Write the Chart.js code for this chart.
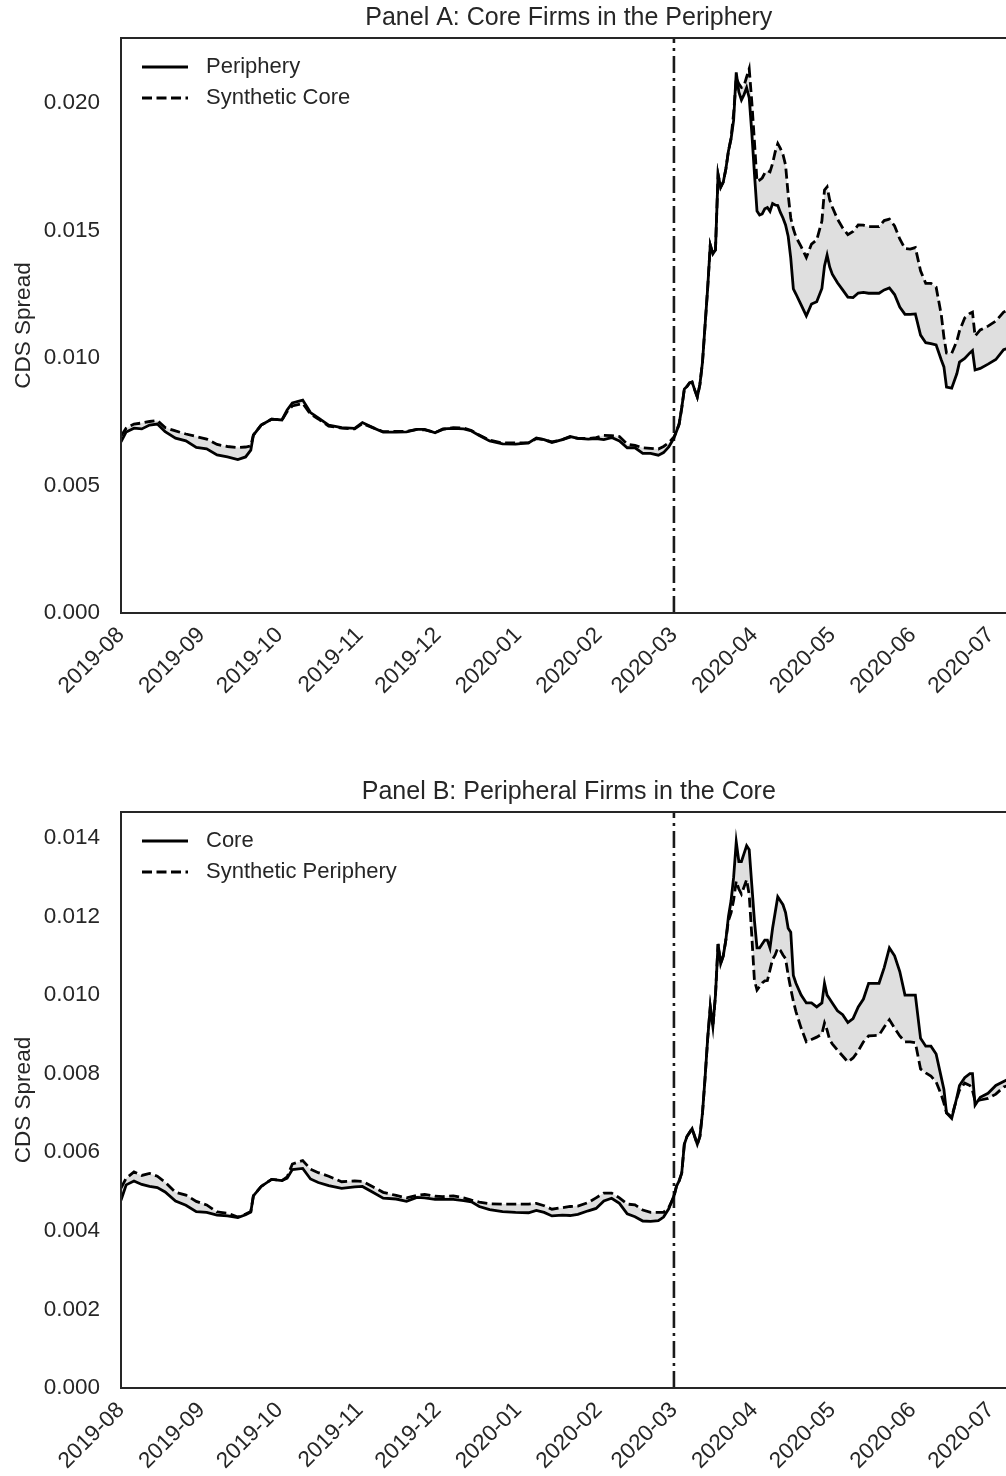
<!DOCTYPE html>
<html>
<head>
<meta charset="utf-8">
<script src="https://cdn.jsdelivr.net/npm/chart.js@4.4.1/dist/chart.umd.min.js"></script>
<style>
  html, body { margin: 0; padding: 0; background: #fff; overflow: hidden; }
  canvas { display: block; }
</style>
</head>
<body>
<canvas id="panelA" width="1138" height="774"></canvas>
<canvas id="panelB" width="1138" height="702"></canvas>
<script>
// observation dates (shared by both panels)
const dates = [
  '2019-08-01','2019-08-03','2019-08-06','2019-08-09','2019-08-12','2019-08-15','2019-08-18','2019-08-22','2019-08-26','2019-08-30',
  '2019-09-03','2019-09-07','2019-09-11','2019-09-15','2019-09-18','2019-09-20','2019-09-21','2019-09-24','2019-09-28',
  '2019-10-02','2019-10-04','2019-10-06','2019-10-10','2019-10-13','2019-10-16','2019-10-20','2019-10-25','2019-10-30',
  '2019-11-02','2019-11-06','2019-11-10','2019-11-15','2019-11-19','2019-11-23','2019-11-26','2019-11-30',
  '2019-12-03','2019-12-07','2019-12-11','2019-12-14','2019-12-17','2019-12-21','2019-12-26','2019-12-31',
  '2020-01-05','2020-01-08','2020-01-11','2020-01-14','2020-01-18','2020-01-21','2020-01-24','2020-01-28','2020-01-31',
  '2020-02-03','2020-02-06','2020-02-09','2020-02-12','2020-02-15','2020-02-18','2020-02-21','2020-02-24','2020-02-26','2020-02-28',
  '2020-03-01','2020-03-02','2020-03-03','2020-03-04','2020-03-05','2020-03-06','2020-03-07','2020-03-08','2020-03-09','2020-03-10',
  '2020-03-11','2020-03-12','2020-03-13','2020-03-14','2020-03-15','2020-03-16','2020-03-17','2020-03-18','2020-03-19','2020-03-20',
  '2020-03-21','2020-03-22','2020-03-23','2020-03-24','2020-03-25','2020-03-26','2020-03-27','2020-03-28','2020-03-29','2020-03-30','2020-03-31',
  '2020-04-01','2020-04-02','2020-04-03','2020-04-04','2020-04-05','2020-04-06','2020-04-07','2020-04-08','2020-04-09','2020-04-10',
  '2020-04-11','2020-04-12','2020-04-13','2020-04-14','2020-04-15','2020-04-16','2020-04-17',
  '2020-04-19','2020-04-21','2020-04-23','2020-04-25','2020-04-27','2020-04-28','2020-04-29','2020-04-30',
  '2020-05-01','2020-05-03','2020-05-05','2020-05-07','2020-05-09','2020-05-11','2020-05-13','2020-05-15','2020-05-17','2020-05-19',
  '2020-05-21','2020-05-23','2020-05-25','2020-05-27','2020-05-29','2020-05-31',
  '2020-06-02','2020-06-04','2020-06-06','2020-06-08','2020-06-10','2020-06-12','2020-06-13','2020-06-14','2020-06-16','2020-06-18',
  '2020-06-19','2020-06-21','2020-06-23','2020-06-24','2020-06-25','2020-06-27','2020-06-30',
  '2020-07-03','2020-07-06','2020-07-09','2020-07-11'
];

// Panel A
const periphery = [
  0.00671,0.00710,0.00725,0.00722,0.00737,0.00741,0.00711,0.00686,0.00675,0.00649,
  0.00644,0.00620,0.00612,0.00602,0.00612,0.00639,0.00698,0.00737,0.00760,
  0.00757,0.00796,0.00824,0.00835,0.00786,0.00765,0.00737,0.00727,0.00724,
  0.00747,0.00727,0.00709,0.00709,0.00710,0.00720,0.00720,0.00707,
  0.00722,0.00724,0.00722,0.00714,0.00696,0.00675,0.00663,0.00662,
  0.00667,0.00686,0.00680,0.00669,0.00680,0.00692,0.00685,0.00682,0.00684,
  0.00680,0.00688,0.00675,0.00648,0.00648,0.00626,0.00626,0.00619,0.00629,0.00651,
  0.00686,0.00713,0.00741,0.00804,0.00878,0.00888,0.00902,0.00906,0.00875,0.00847,
  0.00896,0.00984,0.01129,0.01275,0.01443,0.01408,0.01424,0.01720,0.01670,0.01690,
  0.01741,0.01812,0.01859,0.01933,0.02120,0.02043,0.02012,0.02033,0.02060,0.02020,0.01882,
  0.01725,0.01576,0.01561,0.01565,0.01585,0.01590,0.01575,0.01606,0.01600,0.01598,
  0.01571,0.01549,0.01522,0.01478,0.01392,0.01271,0.01251,
  0.01208,0.01165,0.01212,0.01221,0.01273,0.01361,0.01404,0.01357,
  0.01329,0.01295,0.01267,0.01239,0.01237,0.01255,0.01257,0.01254,0.01254,0.01254,
  0.01267,0.01275,0.01249,0.01200,0.01171,0.01171,
  0.01173,0.01090,0.01060,0.01056,0.01051,0.00992,0.00965,0.00886,0.00882,0.00939,
  0.00984,0.00998,0.01020,0.01029,0.00953,0.00959,0.00976,
  0.00994,0.01033,0.01043,0.01050
];
const syntheticCore = [
  0.00694,0.00725,0.00741,0.00745,0.00751,0.00755,0.00727,0.00714,0.00702,0.00692,
  0.00682,0.00661,0.00653,0.00649,0.00651,0.00655,0.00698,0.00737,0.00760,
  0.00757,0.00790,0.00812,0.00822,0.00780,0.00761,0.00733,0.00725,0.00722,
  0.00743,0.00727,0.00711,0.00712,0.00712,0.00720,0.00718,0.00708,
  0.00720,0.00727,0.00725,0.00716,0.00698,0.00678,0.00667,0.00667,
  0.00667,0.00684,0.00680,0.00671,0.00680,0.00690,0.00685,0.00684,0.00688,
  0.00697,0.00696,0.00692,0.00662,0.00657,0.00648,0.00646,0.00643,0.00653,0.00668,
  0.00690,0.00713,0.00741,0.00804,0.00878,0.00888,0.00902,0.00906,0.00875,0.00847,
  0.00896,0.00984,0.01129,0.01275,0.01443,0.01408,0.01424,0.01720,0.01670,0.01690,
  0.01741,0.01812,0.01862,0.01960,0.02098,0.02075,0.02061,0.02067,0.02102,0.02135,0.02004,
  0.01851,0.01692,0.01698,0.01706,0.01725,0.01735,0.01730,0.01763,0.01808,0.01841,
  0.01822,0.01798,0.01757,0.01641,0.01549,0.01506,0.01475,
  0.01437,0.01394,0.01447,0.01463,0.01537,0.01659,0.01671,0.01620,
  0.01592,0.01545,0.01510,0.01484,0.01496,0.01522,0.01521,0.01515,0.01515,0.01515,
  0.01539,0.01545,0.01518,0.01467,0.01429,0.01427,
  0.01433,0.01342,0.01293,0.01293,0.01278,0.01169,0.01082,0.01020,0.01018,0.01067,
  0.01106,0.01157,0.01175,0.01180,0.01086,0.01110,0.01125,
  0.01145,0.01180,0.01196,0.01205
];

// Panel B
const core = [
  0.00478,0.00517,0.00527,0.00518,0.00513,0.00510,0.00499,0.00476,0.00465,0.00449,
  0.00447,0.00440,0.00438,0.00434,0.00441,0.00448,0.00489,0.00513,0.00531,
  0.00528,0.00534,0.00556,0.00559,0.00532,0.00523,0.00515,0.00508,0.00512,
  0.00513,0.00498,0.00483,0.00481,0.00475,0.00485,0.00484,0.00480,
  0.00480,0.00480,0.00477,0.00474,0.00462,0.00454,0.00449,0.00447,
  0.00446,0.00452,0.00447,0.00438,0.00440,0.00439,0.00442,0.00451,0.00457,
  0.00476,0.00483,0.00470,0.00443,0.00436,0.00425,0.00424,0.00426,0.00435,0.00456,
  0.00489,0.00514,0.00527,0.00547,0.00620,0.00640,0.00650,0.00660,0.00640,0.00620,
  0.00640,0.00700,0.00790,0.00890,0.00970,0.00920,0.01000,0.01130,0.01080,0.01100,
  0.01140,0.01200,0.01240,0.01300,0.01390,0.01340,0.01340,0.01360,0.01380,0.01370,0.01280,
  0.01190,0.01120,0.01120,0.01130,0.01140,0.01140,0.01120,0.01170,0.01210,0.01250,
  0.01240,0.01230,0.01210,0.01170,0.01160,0.01050,0.01030,
  0.01000,0.00980,0.00980,0.00970,0.00980,0.01030,0.01000,0.00990,
  0.00980,0.00960,0.00950,0.00930,0.00940,0.00970,0.00990,0.01030,0.01030,0.01030,
  0.01070,0.01120,0.01100,0.01060,0.01000,0.01000,
  0.01000,0.00890,0.00870,0.00870,0.00850,0.00790,0.00760,0.00700,0.00686,0.00740,
  0.00770,0.00790,0.00800,0.00800,0.00720,0.00740,0.00750,
  0.00770,0.00780,0.00790,0.00790
];
const syntheticPeriphery = [
  0.00509,0.00534,0.00550,0.00541,0.00546,0.00539,0.00524,0.00498,0.00491,0.00475,
  0.00466,0.00448,0.00445,0.00435,0.00443,0.00449,0.00489,0.00513,0.00531,
  0.00528,0.00537,0.00570,0.00579,0.00557,0.00548,0.00539,0.00525,0.00527,
  0.00526,0.00512,0.00498,0.00490,0.00484,0.00490,0.00493,0.00488,
  0.00487,0.00489,0.00484,0.00478,0.00473,0.00469,0.00468,0.00468,
  0.00468,0.00470,0.00464,0.00455,0.00459,0.00462,0.00463,0.00472,0.00484,
  0.00496,0.00496,0.00484,0.00468,0.00466,0.00453,0.00447,0.00447,0.00447,0.00459,
  0.00486,0.00514,0.00527,0.00547,0.00620,0.00640,0.00650,0.00660,0.00640,0.00620,
  0.00640,0.00700,0.00790,0.00890,0.00970,0.00920,0.01000,0.01130,0.01080,0.01100,
  0.01140,0.01190,0.01209,0.01242,0.01290,0.01270,0.01257,0.01275,0.01294,0.01255,0.01150,
  0.01038,0.01013,0.01022,0.01031,0.01036,0.01037,0.01064,0.01091,0.01102,0.01120,
  0.01114,0.01102,0.01093,0.01051,0.01016,0.00984,0.00958,
  0.00916,0.00881,0.00887,0.00893,0.00901,0.00929,0.00911,0.00886,
  0.00876,0.00860,0.00845,0.00830,0.00840,0.00858,0.00881,0.00896,0.00897,0.00898,
  0.00919,0.00937,0.00916,0.00896,0.00881,0.00881,
  0.00879,0.00812,0.00802,0.00794,0.00779,0.00746,0.00725,0.00700,0.00690,0.00738,
  0.00758,0.00776,0.00770,0.00758,0.00730,0.00733,0.00737,
  0.00748,0.00766,0.00772,0.00775
];

const monthTicks = ['2019-08','2019-09','2019-10','2019-11','2019-12','2020-01','2020-02','2020-03','2020-04','2020-05','2020-06','2020-07'];
const startDate = '2019-08-01';
const endDate = '2020-07-11';
const eventDate = '2020-03-01';

const ink = '#262626';
const family = "'Liberation Sans', Arial, Helvetica, sans-serif";
const dayOf = s => (Date.parse(s) - Date.parse(startDate)) / 86400000;

// box around the plot area
const framePlugin = {
  id: 'frame',
  afterDatasetsDraw(chart) {
    const { ctx, chartArea: a } = chart;
    ctx.save();
    ctx.strokeStyle = ink;
    ctx.lineWidth = 2;
    ctx.strokeRect(a.left, a.top, a.right - a.left, a.bottom - a.top);
    ctx.restore();
  }
};

// legend drawn inside the axes, upper left
const insideLegend = {
  id: 'insideLegend',
  afterDraw(chart) {
    const { ctx, chartArea: a } = chart;
    ctx.save();
    ctx.font = '22px ' + family;
    ctx.textBaseline = 'middle';
    chart.data.datasets.filter(ds => ds.label).forEach((ds, i) => {
      const y = a.top + 29 + i * 31;
      ctx.beginPath();
      ctx.setLineDash(ds.borderDash || []);
      ctx.strokeStyle = ds.borderColor;
      ctx.lineWidth = ds.borderWidth;
      ctx.moveTo(a.left + 21, y);
      ctx.lineTo(a.left + 67, y);
      ctx.stroke();
      ctx.setLineDash([]);
      ctx.fillStyle = ink;
      ctx.fillText(ds.label, a.left + 85, y);
    });
    ctx.restore();
  }
};

function makePanel(id, title, solidLabel, solid, dashedLabel, dashed, yMax, yStep, xAxisHeight) {
  const pts = vals => dates.map((d, i) => ({ x: dayOf(d), y: vals[i] }));
  return new Chart(document.getElementById(id), {
    type: 'line',
    data: {
      datasets: [
        { label: solidLabel, data: pts(solid), borderColor: '#000', borderWidth: 2.8, pointRadius: 0,
          fill: '+1', backgroundColor: '#dfdfdf' },
        { label: dashedLabel, data: pts(dashed), borderColor: '#000', borderWidth: 2.8, borderDash: [10, 4.5],
          pointRadius: 0, fill: false },
        { data: [{ x: dayOf(eventDate), y: 0 }, { x: dayOf(eventDate), y: yMax }], borderColor: '#1a1a1a',
          borderWidth: 2.6, borderDash: [17, 5, 3, 5], pointRadius: 0, fill: false }
      ]
    },
    options: {
      responsive: false,
      animation: false,
      layout: { padding: { left: 0, right: 121.4, top: 0, bottom: 0 } },
      plugins: {
        filler: { drawTime: 'beforeDatasetsDraw' },
        legend: { display: false },
        tooltip: { enabled: false },
        title: { display: true, fullSize: false, text: title, color: ink, font: { family, size: 25, weight: 'normal' },
                 padding: { top: 3, bottom: 5 } }
      },
      scales: {
        x: {
          type: 'linear', min: 0, max: dayOf(endDate),
          grid: { display: false, drawTicks: false }, border: { display: false },
          afterBuildTicks: s => { s.ticks = monthTicks.map(m => ({ value: dayOf(m + '-01') })); },
          afterFit: s => { s.height = xAxisHeight; },
          ticks: {
            autoSkip: false, minRotation: 45, maxRotation: 45, padding: 9, color: ink,
            font: { family, size: 22.5 },
            callback: v => monthTicks.find(m => dayOf(m + '-01') === v) || ''
          }
        },
        y: {
          min: 0, max: yMax,
          grid: { display: false, drawTicks: false }, border: { display: false },
          afterFit: s => { s.width = 121; },
          afterBuildTicks: s => {
            s.ticks = s.ticks.filter(t => Math.abs(t.value / yStep - Math.round(t.value / yStep)) < 1e-6);
          },
          ticks: { stepSize: yStep, padding: 21, color: ink, font: { family, size: 22.5 }, callback: v => v.toFixed(3) },
          title: { display: true, text: 'CDS Spread', color: ink, font: { family, size: 22.5 }, padding: { top: 10, bottom: 0 } }
        }
      }
    },
    plugins: [framePlugin, insideLegend]
  });
}

makePanel('panelA', 'Panel A: Core Firms in the Periphery', 'Periphery', periphery, 'Synthetic Core', syntheticCore,
  0.02255, 0.005, 161);
makePanel('panelB', 'Panel B: Peripheral Firms in the Core', 'Core', core, 'Synthetic Periphery', syntheticPeriphery,
  0.01466, 0.002, 88);
</script>
</body>
</html>
